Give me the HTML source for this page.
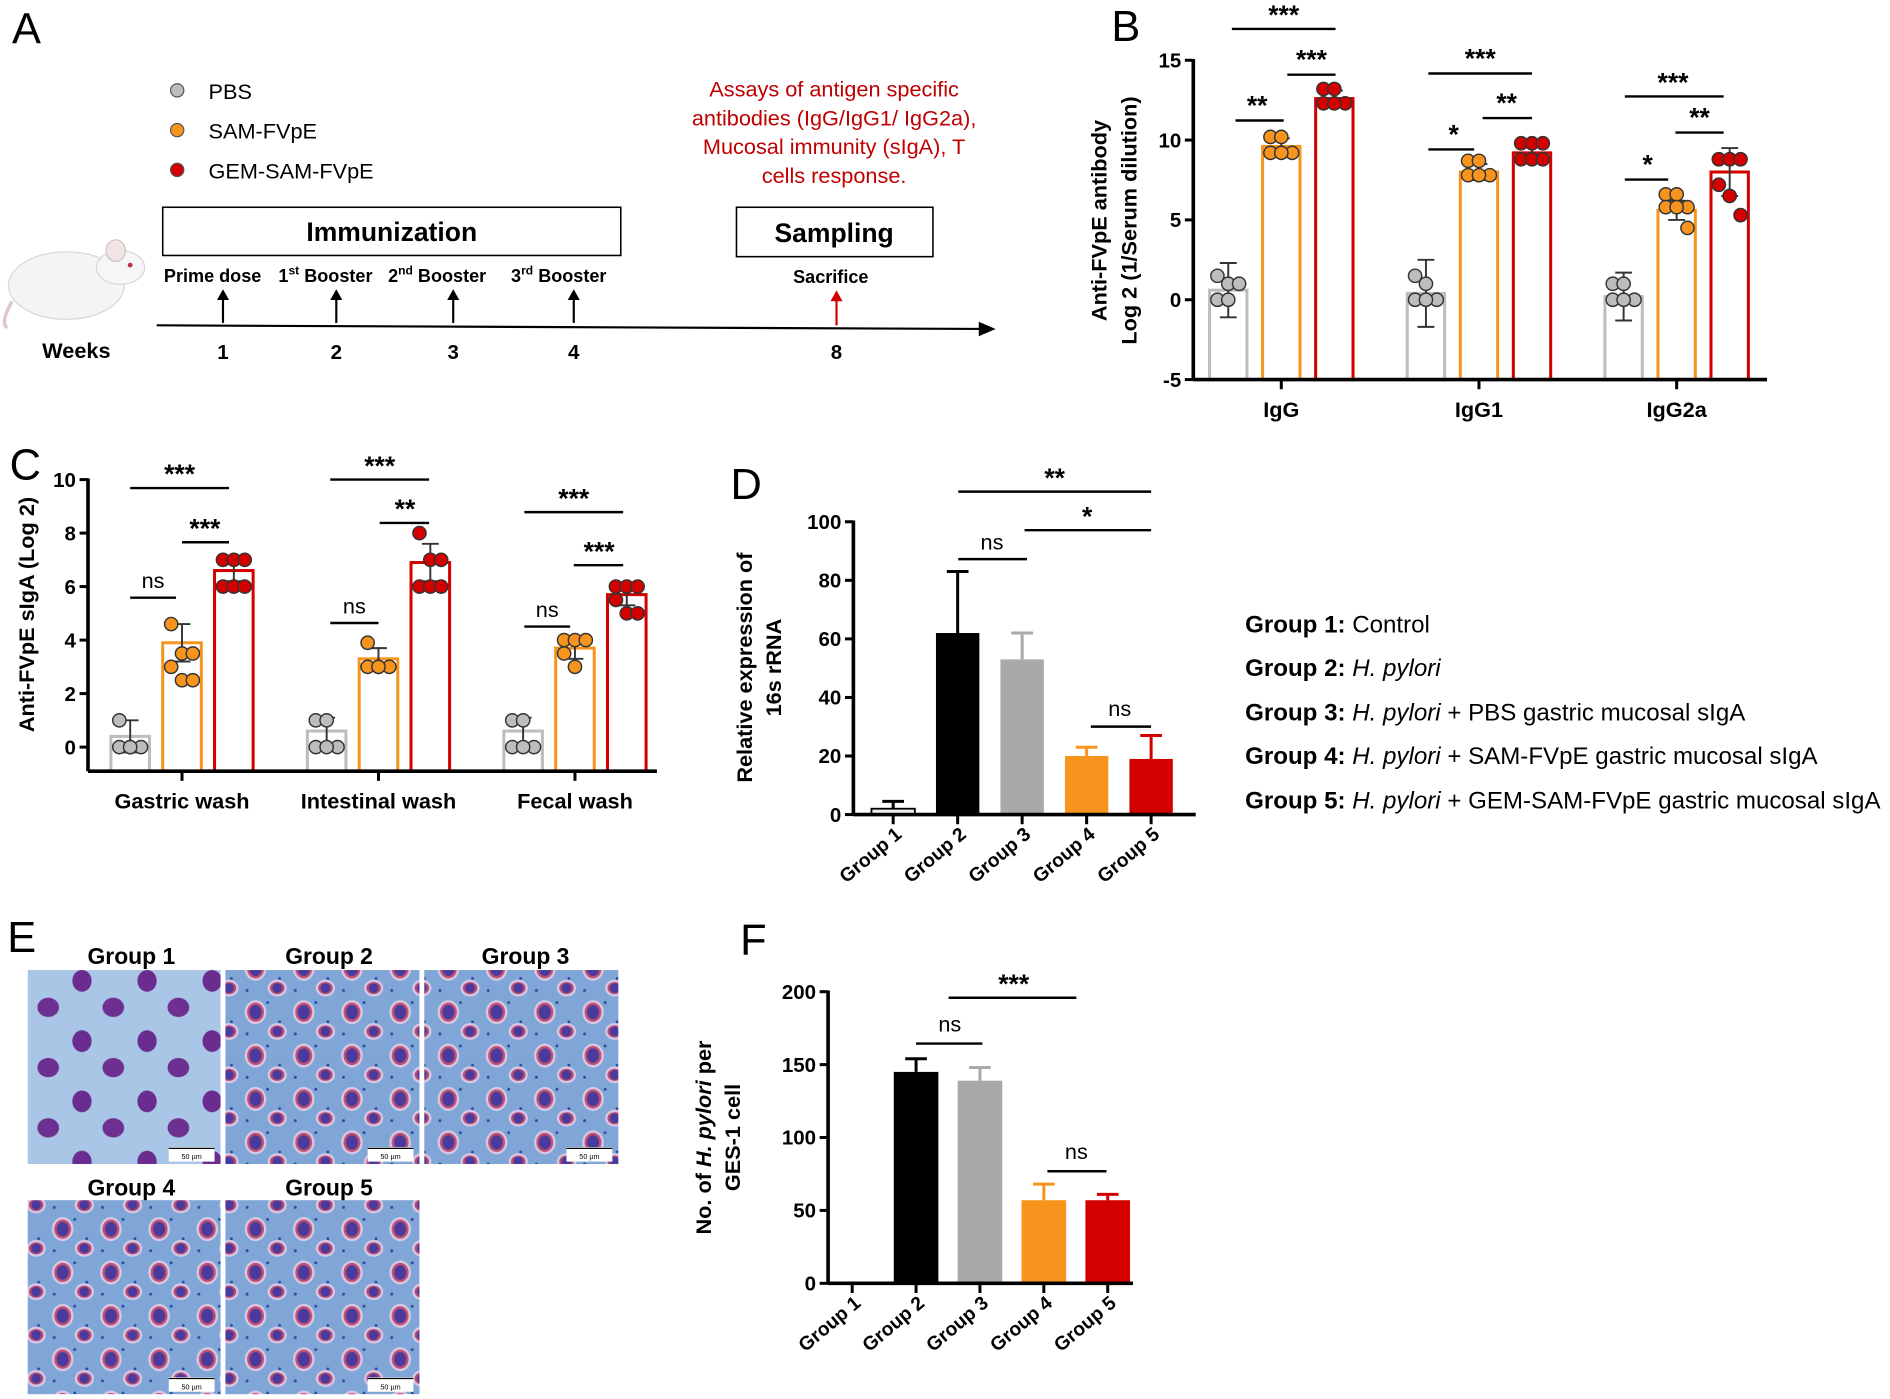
<!DOCTYPE html>
<html><head><meta charset="utf-8"><style>
html,body{margin:0;padding:0;background:#fff;}
svg{display:block;font-family:"Liberation Sans",Arial,sans-serif;}
.b{font-weight:bold;}
</style></head><body>
<svg id="fig" width="1890" height="1399" viewBox="0 0 1568 1161" preserveAspectRatio="none" xmlns="http://www.w3.org/2000/svg">
<defs>
 <pattern id="cellsA" width="54" height="50" patternUnits="userSpaceOnUse">
  <rect width="54" height="50" fill="#a9c6e6"/>
  <ellipse cx="14" cy="14" rx="8" ry="9" fill="#6a2c8f"/>
  <ellipse cx="40" cy="36" rx="9" ry="8" fill="#6e3090"/>
 </pattern>
 <pattern id="cellsB" width="40" height="36" patternUnits="userSpaceOnUse">
  <rect width="40" height="36" fill="#7fa6d6"/>
  <circle cx="5" cy="30" r="1.2" fill="#2a4c9a"/><circle cx="22" cy="4" r="1.2" fill="#2a4c9a"/><circle cx="32" cy="20" r="1.2" fill="#2a4c9a"/>
  <ellipse cx="12" cy="12" rx="9" ry="10" fill="#d8c6e6"/>
  <ellipse cx="12" cy="12" rx="7" ry="8" fill="#c0506e"/>
  <ellipse cx="12" cy="12" rx="5" ry="6" fill="#4a3a9e"/>
  <ellipse cx="30" cy="28" rx="8" ry="7" fill="#d8c6e6"/>
  <ellipse cx="30" cy="28" rx="6" ry="5" fill="#b54a6e"/>
  <ellipse cx="30" cy="28" rx="4" ry="4" fill="#4a3a9e"/>
 </pattern>
</defs>

<!-- Panel A -->
<g>
 <text x="10" y="36" font-size="36">A</text>
 <circle cx="147" cy="75" r="5.5" fill="#bdbdbd" stroke="#555" stroke-width="1"/>
 <text x="173" y="82" font-size="18">PBS</text>
 <circle cx="147" cy="108" r="5.5" fill="#f7941d" stroke="#555" stroke-width="1"/>
 <text x="173" y="115" font-size="18">SAM-FVpE</text>
 <circle cx="147" cy="141" r="5.5" fill="#d40000" stroke="#555" stroke-width="1"/>
 <text x="173" y="148" font-size="18">GEM-SAM-FVpE</text>
 <g fill="#c00000" font-size="18" text-anchor="middle">
  <text x="692" y="80">Assays of antigen specific</text>
  <text x="692" y="104">antibodies (IgG/IgG1/ IgG2a),</text>
  <text x="692" y="128">Mucosal immunity (sIgA), T</text>
  <text x="692" y="152">cells response.</text>
 </g>
 <rect x="135" y="172" width="380" height="40" fill="none" stroke="#000" stroke-width="1.3"/>
 <text x="325" y="200" font-size="22" class="b" text-anchor="middle">Immunization</text>
 <rect x="611" y="172" width="163" height="41" fill="none" stroke="#000" stroke-width="1.3"/>
 <text x="692" y="201" font-size="22" class="b" text-anchor="middle">Sampling</text>
 <g>
  <ellipse cx="55" cy="237" rx="48" ry="28" fill="#f4f4f4" stroke="#d8d8d8"/>
  <ellipse cx="100" cy="222" rx="20" ry="14" fill="#f6f6f6" stroke="#d8d8d8"/>
  <ellipse cx="96" cy="208" rx="8" ry="9" fill="#f2e4e4" stroke="#d0c0c0"/>
  <circle cx="108" cy="220" r="2" fill="#c0304a"/>
  <path d="M10 250 Q0 268 6 272" stroke="#e0c8c8" fill="none" stroke-width="3"/>
 </g>
 <g font-size="15" class="b">
  <text x="136" y="234">Prime dose</text>
  <text x="231" y="234">1<tspan font-size="10" dy="-6">st</tspan><tspan dy="6"> Booster</tspan></text>
  <text x="322" y="234">2<tspan font-size="10" dy="-6">nd</tspan><tspan dy="6"> Booster</tspan></text>
  <text x="424" y="234">3<tspan font-size="10" dy="-6">rd</tspan><tspan dy="6"> Booster</tspan></text>
  <text x="658" y="235">Sacrifice</text>
 </g>
 <line x1="130" y1="270" x2="815" y2="273" stroke="#000" stroke-width="1.8"/>
 <polygon points="826,273 812,267 812,279" fill="#000"/>
 <g stroke="#000" stroke-width="1.8">
  <line x1="185" y1="268" x2="185" y2="246"/><line x1="279" y1="268" x2="279" y2="246"/>
  <line x1="376" y1="268" x2="376" y2="246"/><line x1="476" y1="268" x2="476" y2="246"/>
 </g>
 <g fill="#000"><polygon points="185,240 180,249 190,249"/><polygon points="279,240 274,249 284,249"/><polygon points="376,240 371,249 381,249"/><polygon points="476,240 471,249 481,249"/></g>
 <line x1="694" y1="270" x2="694" y2="248" stroke="#c00" stroke-width="1.8"/>
 <polygon points="694,241 689,250 699,250" fill="#c00"/>
 <text x="35" y="297" font-size="18" class="b">Weeks</text>
 <g font-size="17" class="b" text-anchor="middle">
  <text x="185" y="298">1</text><text x="279" y="298">2</text><text x="376" y="298">3</text><text x="476" y="298">4</text><text x="694" y="298">8</text>
 </g>
</g>

<!-- Panel labels -->
<text x="922" y="34" font-size="36">B</text>
<text x="8" y="398" font-size="36">C</text>
<text x="606" y="414" font-size="36">D</text>
<text x="6" y="790" font-size="36">E</text>
<text x="614" y="792" font-size="36">F</text>

<!-- Panel E images -->
<g font-size="19" class="b" text-anchor="middle">
 <text x="109" y="800">Group 1</text><text x="273" y="800">Group 2</text><text x="436" y="800">Group 3</text>
 <text x="109" y="992">Group 4</text><text x="273" y="992">Group 5</text>
 <rect x="23" y="805" width="160" height="161" fill="url(#cellsA)"/>
 <rect x="187" y="805" width="161" height="161" fill="url(#cellsB)"/>
 <rect x="352" y="805" width="161" height="161" fill="url(#cellsB)"/>
 <rect x="23" y="996" width="160" height="161" fill="url(#cellsB)"/>
 <rect x="187" y="996" width="161" height="161" fill="url(#cellsB)"/>
 <g fill="#fff">
  <rect x="140" y="952" width="38" height="12"/><rect x="305" y="952" width="38" height="12"/><rect x="470" y="952" width="38" height="12"/>
  <rect x="140" y="1143" width="38" height="12"/><rect x="305" y="1143" width="38" height="12"/>
 </g>
 <g stroke="#000" stroke-width="1"><line x1="140" y1="953" x2="178" y2="953"/><line x1="305" y1="953" x2="343" y2="953"/><line x1="470" y1="953" x2="508" y2="953"/><line x1="140" y1="1144" x2="178" y2="1144"/><line x1="305" y1="1144" x2="343" y2="1144"/></g>
 <g font-size="6" font-weight="normal"><text x="159" y="962">50 µm</text><text x="324" y="962">50 µm</text><text x="489" y="962">50 µm</text><text x="159" y="1153">50 µm</text><text x="324" y="1153">50 µm</text></g>
</g>

<!-- Legend D -->
<g font-size="20">
 <text x="1033" y="525"><tspan class="b">Group 1:</tspan> Control</text>
 <text x="1033" y="561"><tspan class="b">Group 2:</tspan> <tspan font-style="italic">H. pylori</tspan></text>
 <text x="1033" y="598"><tspan class="b">Group 3:</tspan> <tspan font-style="italic">H. pylori</tspan> + PBS gastric mucosal sIgA</text>
 <text x="1033" y="634"><tspan class="b">Group 4:</tspan> <tspan font-style="italic">H. pylori</tspan> + SAM-FVpE gastric mucosal sIgA</text>
 <text x="1033" y="671"><tspan class="b">Group 5:</tspan> <tspan font-style="italic">H. pylori</tspan> + GEM-SAM-FVpE gastric mucosal sIgA</text>
</g>

<!-- Significance annotations -->
<g id="sig" stroke="#000" stroke-width="2">
 <line x1="1022" y1="24" x2="1108" y2="24"/><line x1="1068" y1="62" x2="1108" y2="62"/><line x1="1025" y1="100" x2="1065" y2="100"/>
 <line x1="1185" y1="61" x2="1271" y2="61"/><line x1="1230" y1="98" x2="1271" y2="98"/><line x1="1185" y1="124" x2="1223" y2="124"/>
 <line x1="1348" y1="80" x2="1430" y2="80"/><line x1="1390" y1="110" x2="1430" y2="110"/><line x1="1348" y1="149" x2="1384" y2="149"/>
 <line x1="108" y1="405" x2="190" y2="405"/><line x1="151" y1="450" x2="190" y2="450"/><line x1="108" y1="496" x2="146" y2="496"/>
 <line x1="274" y1="398" x2="356" y2="398"/><line x1="315" y1="434" x2="356" y2="434"/><line x1="274" y1="517" x2="314" y2="517"/>
 <line x1="435" y1="425" x2="517" y2="425"/><line x1="476" y1="469" x2="517" y2="469"/><line x1="435" y1="520" x2="473" y2="520"/>
 <line x1="795" y1="408" x2="955" y2="408"/><line x1="850" y1="440" x2="955" y2="440"/><line x1="795" y1="464" x2="852" y2="464"/><line x1="905" y1="603" x2="955" y2="603"/>
 <line x1="787" y1="828" x2="893" y2="828"/><line x1="760" y1="866" x2="815" y2="866"/><line x1="869" y1="972" x2="918" y2="972"/>
</g>
<g font-size="22" class="b" text-anchor="middle">
 <text x="1065" y="20">***</text><text x="1088" y="57">***</text><text x="1043" y="95">**</text>
 <text x="1228" y="56">***</text><text x="1250" y="93">**</text><text x="1206" y="119">*</text>
 <text x="1388" y="76">***</text><text x="1410" y="105">**</text><text x="1367" y="144">*</text>
 <text x="149" y="401">***</text><text x="170" y="446">***</text>
 <text x="315" y="394">***</text><text x="336" y="430">**</text>
 <text x="476" y="421">***</text><text x="497" y="465">***</text>
 <text x="875" y="404">**</text><text x="902" y="436">*</text>
 <text x="841" y="824">***</text>
</g>
<g font-size="18" text-anchor="middle">
 <text x="127" y="488">ns</text><text x="294" y="509">ns</text><text x="454" y="512">ns</text>
 <text x="823" y="456">ns</text><text x="929" y="594">ns</text>
 <text x="788" y="856">ns</text><text x="893" y="962">ns</text>
</g>
</svg>
<script>
// ---- Panel B data ----
const bCats = ['IgG', 'IgG1', 'IgG2a'];
const bPbsMean = [0.6, 0.4, 0.2];
const bSamMean = [9.6, 8.0, 5.6];
const bGemMean = [12.6, 9.2, 8.0];
const bPbsSD = [1.7, 2.1, 1.5];
const bSamSD = [0.5, 0.5, 0.6];
const bGemSD = [0.5, 0.5, 1.5];
const bPbsPts = [[1.5, 1.0, 1.0, 0, 0], [1.5, 1.0, 0, 0, 0], [1.0, 1.0, 0, 0, 0]];
const bSamPts = [[10.2, 10.2, 9.2, 9.2, 9.2], [8.7, 8.7, 7.8, 7.8, 7.8], [6.6, 6.6, 5.8, 5.8, 5.8, 4.5]];
const bGemPts = [[13.2, 13.2, 12.3, 12.3, 12.3], [9.8, 9.8, 9.8, 8.8, 8.8, 8.8], [8.8, 8.8, 8.8, 7.2, 6.5, 5.3]];
const bTicks = [-5, 0, 5, 10, 15];
// ---- Panel C data ----
const cCats = ['Gastric wash', 'Intestinal wash', 'Fecal wash'];
const cPbsMean = [0.4, 0.6, 0.6];
const cSamMean = [3.9, 3.3, 3.7];
const cGemMean = [6.6, 6.9, 5.7];
const cPbsSD = [0.6, 0.5, 0.5];
const cSamSD = [0.7, 0.4, 0.4];
const cGemSD = [0.4, 0.7, 0.4];
const cPbsPts = [[1.0, 0, 0, 0, 0], [1.0, 1.0, 0, 0, 0], [1.0, 1.0, 0, 0, 0]];
const cSamPts = [[4.6, 3.5, 3.5, 3.0, 2.5, 2.5], [3.9, 3.0, 3.0, 3.0, 3.0], [4.0, 4.0, 4.0, 3.5, 3.0]];
const cGemPts = [[7.0, 7.0, 7.0, 6.0, 6.0, 6.0], [8.0, 7.0, 7.0, 6.0, 6.0, 6.0], [6.0, 6.0, 6.0, 5.5, 5.0, 5.0]];
const cTicks = [0, 2, 4, 6, 8, 10];
// ---- Panel D data ----
const dCats = ['Group 1', 'Group 2', 'Group 3', 'Group 4', 'Group 5'];
const dVals = [2, 62, 53, 20, 19];
const dErr = [2.5, 21, 9, 3, 8];
const dTicks = [0, 20, 40, 60, 80, 100];
// ---- Panel F data ----
const fCats = ['Group 1', 'Group 2', 'Group 3', 'Group 4', 'Group 5'];
const fVals = [0, 145, 139, 57, 57];
const fErr = [0, 9, 9, 11, 4];
const fTicks = [0, 50, 100, 150, 200];

const NS = 'http://www.w3.org/2000/svg';
const svg = document.getElementById('fig');
function el(tag, attrs, parent) {
  const e = document.createElementNS(NS, tag);
  for (const k in attrs) e.setAttribute(k, attrs[k]);
  (parent || svg).appendChild(e);
  return e;
}

function yAxis(g, x, yScale, ticks, yTop, yBottom, fs) {
  const ax = el('line', {x1: x, y1: yTop, x2: x, y2: yBottom, stroke: '#000', 'stroke-width': 3}, g);
  
  
  ticks.forEach(t => {
    el('line', {x1: x - 7, y1: yScale(t), x2: x, y2: yScale(t), stroke: '#000', 'stroke-width': 2.5}, g);
    const tl = el('text', {x: x - 10, y: yScale(t) + 6, 'font-size': fs, 'font-weight': 'bold', 'text-anchor': 'end'}, g);
    tl.textContent = t;
    
    
  });
}

function dotChart(cfg, cats, means, sds, pts, ticks) {
  const g = el('g', {});
  
  
  const yS = v => cfg.y0 + (v - ticks[0]) * (cfg.y1 - cfg.y0) / (ticks[ticks.length - 1] - ticks[0]);
  const colors = ['#bdbdbd', '#f7941d', '#d40000'];
  const offs = [-cfg.sp, 0, cfg.sp];
  cats.forEach((c, i) => {
    const cx = cfg.cx0 + i * cfg.gap;
    for (let s = 0; s < 3; s++) {
      const bx = cx + offs[s];
      const m = means[s][i], sd = sds[s][i];
      const bar = el('rect', {x: bx - cfg.bw / 2, y: Math.min(yS(m), cfg.base), width: cfg.bw, height: Math.abs(cfg.base - yS(m)), fill: 'none', stroke: colors[s], 'stroke-width': 2.5}, g);
      
      
      const er = el('path', {d: `M${bx} ${yS(m - sd)}V${yS(m + sd)}M${bx - 7} ${yS(m - sd)}H${bx + 7}M${bx - 7} ${yS(m + sd)}H${bx + 7}`, stroke: '#333', 'stroke-width': 1.6, fill: 'none'}, g);
      
      
      const arr = pts[s][i];
      arr.forEach((v, k) => {
        const dx = ((k % 3) - 1) * 9;
        const p = el('circle', {cx: bx + dx, cy: yS(v), r: 5.5, fill: colors[s], stroke: '#333', 'stroke-width': 1.2}, g);
        
        
      });
    }
    el('line', {x1: cx, y1: cfg.xAxisY, x2: cx, y2: cfg.xAxisY + 8, stroke: '#000', 'stroke-width': 2.5}, g);
    const cl = el('text', {x: cx, y: cfg.xAxisY + 31, 'font-size': 18, 'font-weight': 'bold', 'text-anchor': 'middle'}, g);
    cl.textContent = c;
    
    
  });
  yAxis(g, cfg.ax, yS, ticks, yS(ticks[ticks.length - 1]) - 1, cfg.xAxisY, 17);
  const xa = el('line', {x1: cfg.ax, y1: cfg.xAxisY, x2: cfg.xEnd, y2: cfg.xAxisY, stroke: '#000', 'stroke-width': 3}, g);
  
  
  cfg.title.forEach((t, i) => {
    const tt = el('text', {x: 0, y: 0, 'font-size': 18, 'font-weight': 'bold', 'text-anchor': 'middle', transform: `translate(${cfg.tx + i * 25},${cfg.ty}) rotate(-90)`}, g);
    tt.textContent = t;
    
    
  });
}

dotChart({name: 'panel-b-chart', ax: 990, y0: 315, y1: 50, base: 315, xAxisY: 315, xEnd: 1466, cx0: 1063, gap: 164, sp: 44, bw: 31, tx: 918, ty: 183, title: ['Anti-FVpE antibody', 'Log 2 (1/Serum dilution)']},
  bCats, [bPbsMean, bSamMean, bGemMean], [bPbsSD, bSamSD, bGemSD], [bPbsPts, bSamPts, bGemPts], bTicks);

dotChart({name: 'panel-c-chart', ax: 73, y0: 620, y1: 398, base: 640, xAxisY: 640, xEnd: 545, cx0: 151, gap: 163, sp: 43, bw: 32, tx: 28, ty: 510, title: ['Anti-FVpE sIgA (Log 2)']},
  cCats, [cPbsMean, cSamMean, cGemMean], [cPbsSD, cSamSD, cGemSD], [cPbsPts, cSamPts, cGemPts], cTicks);

function barChart(cfg, cats, vals, errs, ticks) {
  const g = el('g', {});
  
  
  const yS = v => cfg.y0 + (v - ticks[0]) * (cfg.y1 - cfg.y0) / (ticks[ticks.length - 1] - ticks[0]);
  const colors = ['#f0f0f0', '#000', '#a9a9a9', '#f7941d', '#d40000'];
  cats.forEach((c, i) => {
    const cx = cfg.cx0 + i * cfg.gap;
    const v = vals[i], e = errs[i];
    if (e > 0) {
      const eb = el('path', {d: `M${cx} ${yS(v)}V${yS(v + e)}M${cx - 9} ${yS(v + e)}H${cx + 9}`, stroke: i === 0 ? '#000' : colors[i], 'stroke-width': 2.5, fill: 'none'}, g);
      
      
    }
    const bar = el('rect', {x: cx - cfg.bw / 2, y: yS(v), width: cfg.bw, height: cfg.y0 - yS(v), fill: colors[i], stroke: i === 0 ? '#000' : 'none', 'stroke-width': 1.5}, g);
    
    
    el('line', {x1: cx, y1: cfg.y0, x2: cx, y2: cfg.y0 + 8, stroke: '#000', 'stroke-width': 2.5}, g);
    const tl = el('text', {x: 0, y: 0, 'font-size': 16, 'font-weight': 'bold', 'text-anchor': 'end', transform: `translate(${cx + 8},${cfg.y0 + 18}) rotate(-40)`}, g);
    tl.textContent = c;
    
    
  });
  yAxis(g, cfg.ax, yS, ticks, yS(ticks[ticks.length - 1]) - 1, cfg.y0, 17);
  const xa = el('line', {x1: cfg.ax, y1: cfg.y0, x2: cfg.xEnd, y2: cfg.y0, stroke: '#000', 'stroke-width': 3}, g);
  
  
  cfg.title.forEach((t, i) => {
    const tt = el('text', {x: 0, y: 0, 'font-size': 18, 'font-weight': 'bold', 'text-anchor': 'middle', transform: `translate(${cfg.tx + i * 24},${cfg.ty}) rotate(-90)`}, g);
    tt.innerHTML = t;
    
    
  });
}

barChart({name: 'panel-d-chart', ax: 708, y0: 676, y1: 433, xEnd: 992, cx0: 741, gap: 53.5, bw: 36, tx: 624, ty: 554, title: ['Relative expression of', '16s rRNA']},
  dCats, dVals, dErr, dTicks);

barChart({name: 'panel-f-chart', ax: 687, y0: 1065, y1: 823, xEnd: 940, cx0: 707, gap: 53, bw: 37, tx: 590, ty: 944, title: ['No. of <tspan font-style="italic">H. pylori</tspan> per', 'GES-1 cell']},
  fCats, fVals, fErr, fTicks);

document.getElementById('sig').parentNode.appendChild(document.getElementById('sig'));
</script>
</body></html>
